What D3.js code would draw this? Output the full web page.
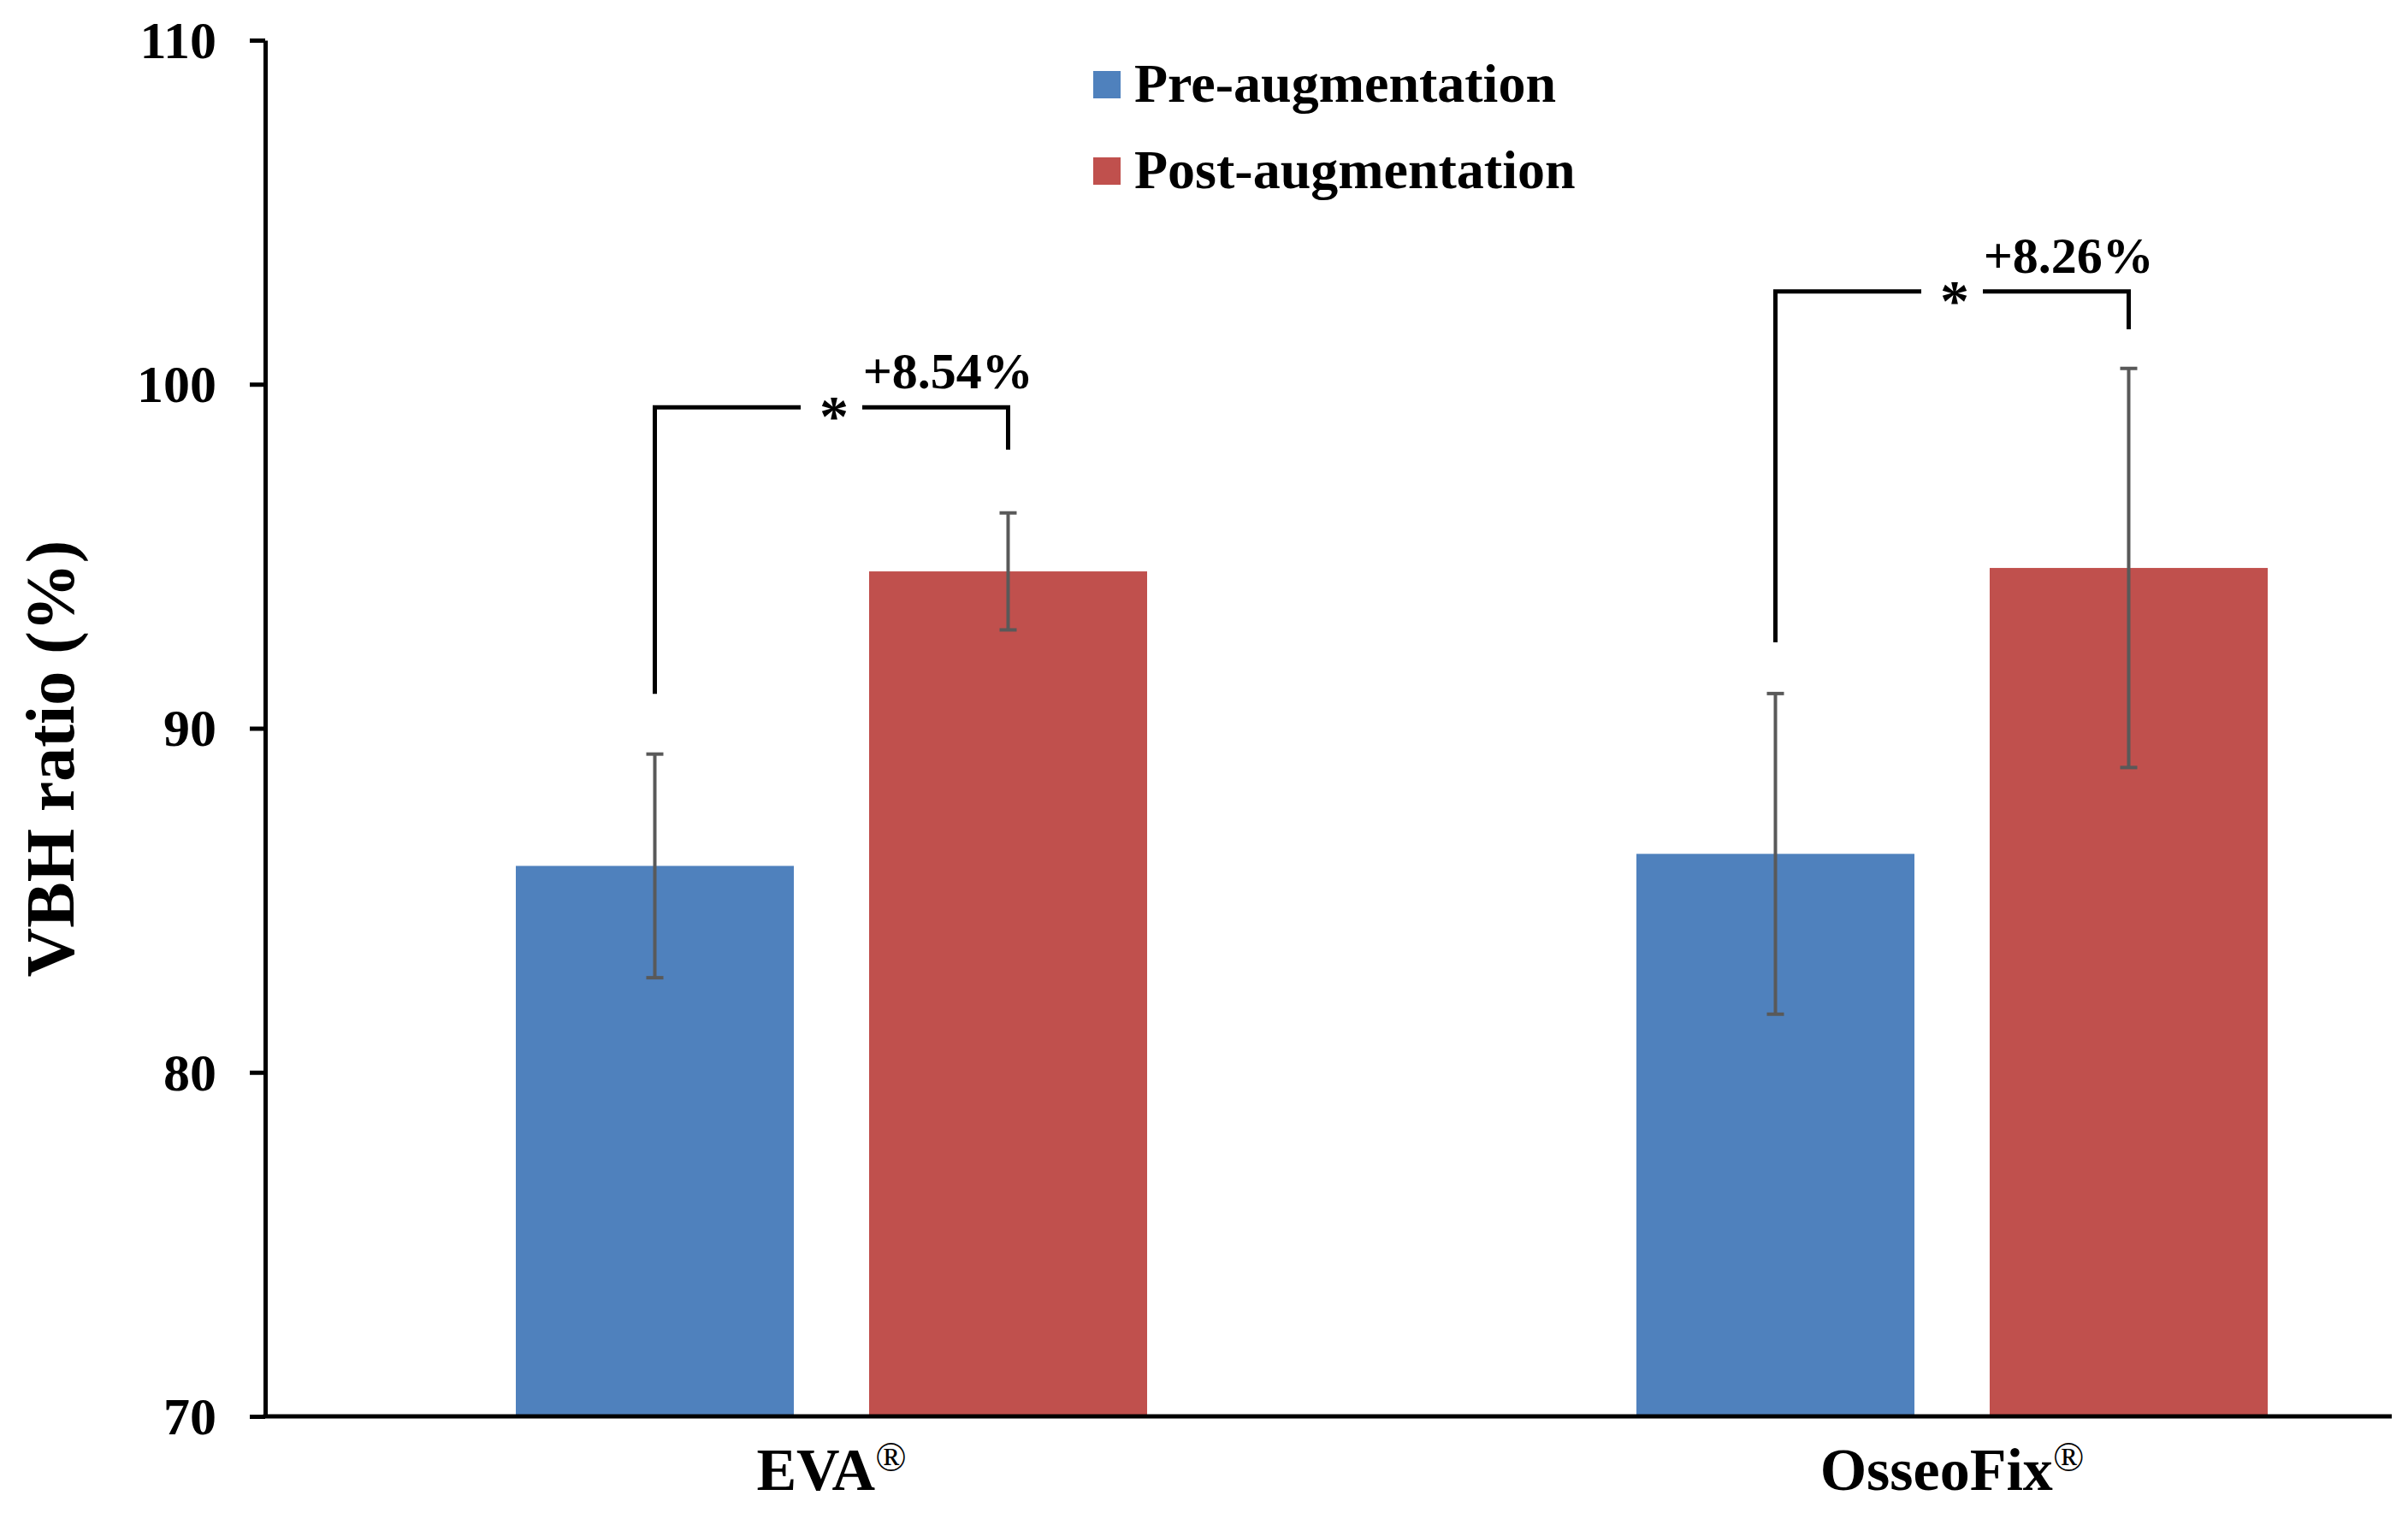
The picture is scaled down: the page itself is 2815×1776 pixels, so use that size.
<!DOCTYPE html>
<html>
<head>
<meta charset="utf-8">
<title>VBH ratio</title>
<style>
  body { margin: 0; background: #fff; }
  svg text { font-family: "Liberation Serif", "Times New Roman", serif; font-weight: bold; fill: #000; }
</style>
</head>
<body>
<div id="chart"></div>
<script src="https://cdn.jsdelivr.net/npm/d3@7"></script>
<script>
var categories = ["EVA", "OsseoFix"]
var series = ["Pre-augmentation", "Post-augmentation"]
var preMean = [86.0, 86.35]
var preSD = [3.25, 4.66]
var postMean = [94.56, 94.66]
var postSD = [1.70, 5.80]
var yTicks = [70, 80, 90, 100, 110]

// significance brackets (y values of left foot, top bar, right foot)
var bracketLeft = [91.0, 92.5]
var bracketTop = [99.33, 102.7]
var bracketRight = [98.1, 101.6]
var changeLabels = ["+8.54%", "+8.26%"]

var colors = { "Pre-augmentation": "#4F81BD", "Post-augmentation": "#C0504D" }

var W = 2815, H = 1776
var plotLeft = 310, plotRight = 2796, plotTop = 47, plotBottom = 1656

var svg = d3.select("#chart").append("svg")
	.attr("width", W)
	.attr("height", H)

var y = d3.scaleLinear().domain([70, 110]).range([plotBottom, plotTop])
var x0 = d3.scalePoint().domain(categories).range([972, 2282])
var x1 = d3.scaleBand().domain(series).range([-369, 369]).paddingInner(0.213)

var rows = categories.map(function(c, i) {
	return { cat: c, values: [
		{ s: series[0], mean: preMean[i], sd: preSD[i] },
		{ s: series[1], mean: postMean[i], sd: postSD[i] }
	]}
})

var group = svg.selectAll("g.cat")
	.data(rows)
	.enter()
	.append("g")
	.attr("class", "cat")
	.attr("transform", function(d) { return "translate(" + x0(d.cat) + ",0)" })

group.selectAll("rect")
	.data(function(d) { return d.values })
	.enter()
	.append("rect")
	.attr("x", function(d) { return x1(d.s) })
	.attr("width", x1.bandwidth())
	.attr("y", function(d) { return y(d.mean) })
	.attr("height", function(d) { return y(70) - y(d.mean) })
	.attr("fill", function(d) { return colors[d.s] })

// error bars
var err = group.selectAll("g.err")
	.data(function(d) { return d.values })
	.enter()
	.append("g")
	.attr("class", "err")
	.attr("stroke", "#595959")
	.attr("stroke-width", 4)

err.append("line")
	.attr("x1", function(d) { return x1(d.s) + x1.bandwidth() / 2 })
	.attr("x2", function(d) { return x1(d.s) + x1.bandwidth() / 2 })
	.attr("y1", function(d) { return y(d.mean + d.sd) })
	.attr("y2", function(d) { return y(d.mean - d.sd) })

err.selectAll("line.cap")
	.data(function(d) { return [d.mean + d.sd, d.mean - d.sd].map(function(v) { return { s: d.s, v: v } }) })
	.enter()
	.append("line")
	.attr("class", "cap")
	.attr("x1", function(d) { return x1(d.s) + x1.bandwidth() / 2 - 10 })
	.attr("x2", function(d) { return x1(d.s) + x1.bandwidth() / 2 + 10 })
	.attr("y1", function(d) { return y(d.v) })
	.attr("y2", function(d) { return y(d.v) })

// y axis
var yAxis = svg.append("g")
	.attr("transform", "translate(" + plotLeft + ",0)")
	.call(d3.axisLeft(y).tickValues(yTicks).tickSize(18).tickSizeOuter(0).tickPadding(39))

yAxis.selectAll("path, line").attr("stroke", "#000").attr("stroke-width", 5)
yAxis.selectAll("text")
	.attr("font-size", 62)
	.attr("dy", "0.33em")
	.style("font-family", '"Liberation Serif", "Times New Roman", serif')
	.style("font-weight", "bold")
	.attr("fill", "#000")

// x axis line
svg.append("line")
	.attr("x1", plotLeft - 2.5)
	.attr("x2", plotRight)
	.attr("y1", y(70))
	.attr("y2", y(70))
	.attr("stroke", "#000")
	.attr("stroke-width", 5)

// category labels
var xl = svg.selectAll("text.xlab")
	.data(categories)
	.enter()
	.append("text")
	.attr("class", "xlab")
	.attr("x", function(d) { return x0(d) })
	.attr("y", 1742)
	.attr("text-anchor", "middle")
	.attr("font-size", 70)

xl.append("tspan").text(function(d) { return d })
xl.append("tspan").attr("font-size", 48).attr("font-weight", "normal").attr("dy", -22).text("\u00AE")

// y label
svg.append("text")
	.attr("transform", "translate(86,887) rotate(-90)")
	.attr("text-anchor", "middle")
	.attr("font-size", 80)
	.text("VBH ratio (%)")

// significance brackets
var br = svg.selectAll("g.br")
	.data(categories.map(function(c, i) { return { cat: c, i: i } }))
	.enter()
	.append("g")
	.attr("class", "br")

function bx(d, s) { return x0(d.cat) + x1(s) + x1.bandwidth() / 2 }

br.append("path")
	.attr("fill", "none")
	.attr("stroke", "#000")
	.attr("stroke-width", 5)
	.attr("d", function(d) {
		var xa = bx(d, series[0]), xb = bx(d, series[1]), m = (xa + xb) / 2, t = y(bracketTop[d.i])
		return "M" + xa + "," + y(bracketLeft[d.i]) + "V" + t + "H" + (m - 36)
			+ "M" + (m + 36) + "," + t + "H" + xb + "V" + y(bracketRight[d.i])
	})

br.append("text")
	.attr("x", function(d) { return (bx(d, series[0]) + bx(d, series[1])) / 2 + 3 })
	.attr("y", function(d) { return y(bracketTop[d.i]) + 33 })
	.attr("text-anchor", "middle")
	.attr("font-size", 68)
	.text("*")

br.append("text")
	.attr("x", function(d) {
		var xa = bx(d, series[0]), xb = bx(d, series[1]), m = (xa + xb) / 2
		return m + (xb - m) * 0.66
	})
	.attr("y", function(d) { return y(bracketTop[d.i]) - 22 })
	.attr("text-anchor", "middle")
	.attr("font-size", 60)
	.text(function(d) { return changeLabels[d.i] })

// legend
var lg = svg.selectAll("g.lg")
	.data(series)
	.enter()
	.append("g")
	.attr("class", "lg")
	.attr("transform", function(d, i) { return "translate(1278," + (83 + i * 101) + ")" })

lg.append("rect")
	.attr("width", 32)
	.attr("height", 32)
	.attr("fill", function(d) { return colors[d] })

lg.append("text")
	.attr("x", 48)
	.attr("y", 36)
	.attr("font-size", 64)
	.text(function(d) { return d })
</script>
</body>
</html>
